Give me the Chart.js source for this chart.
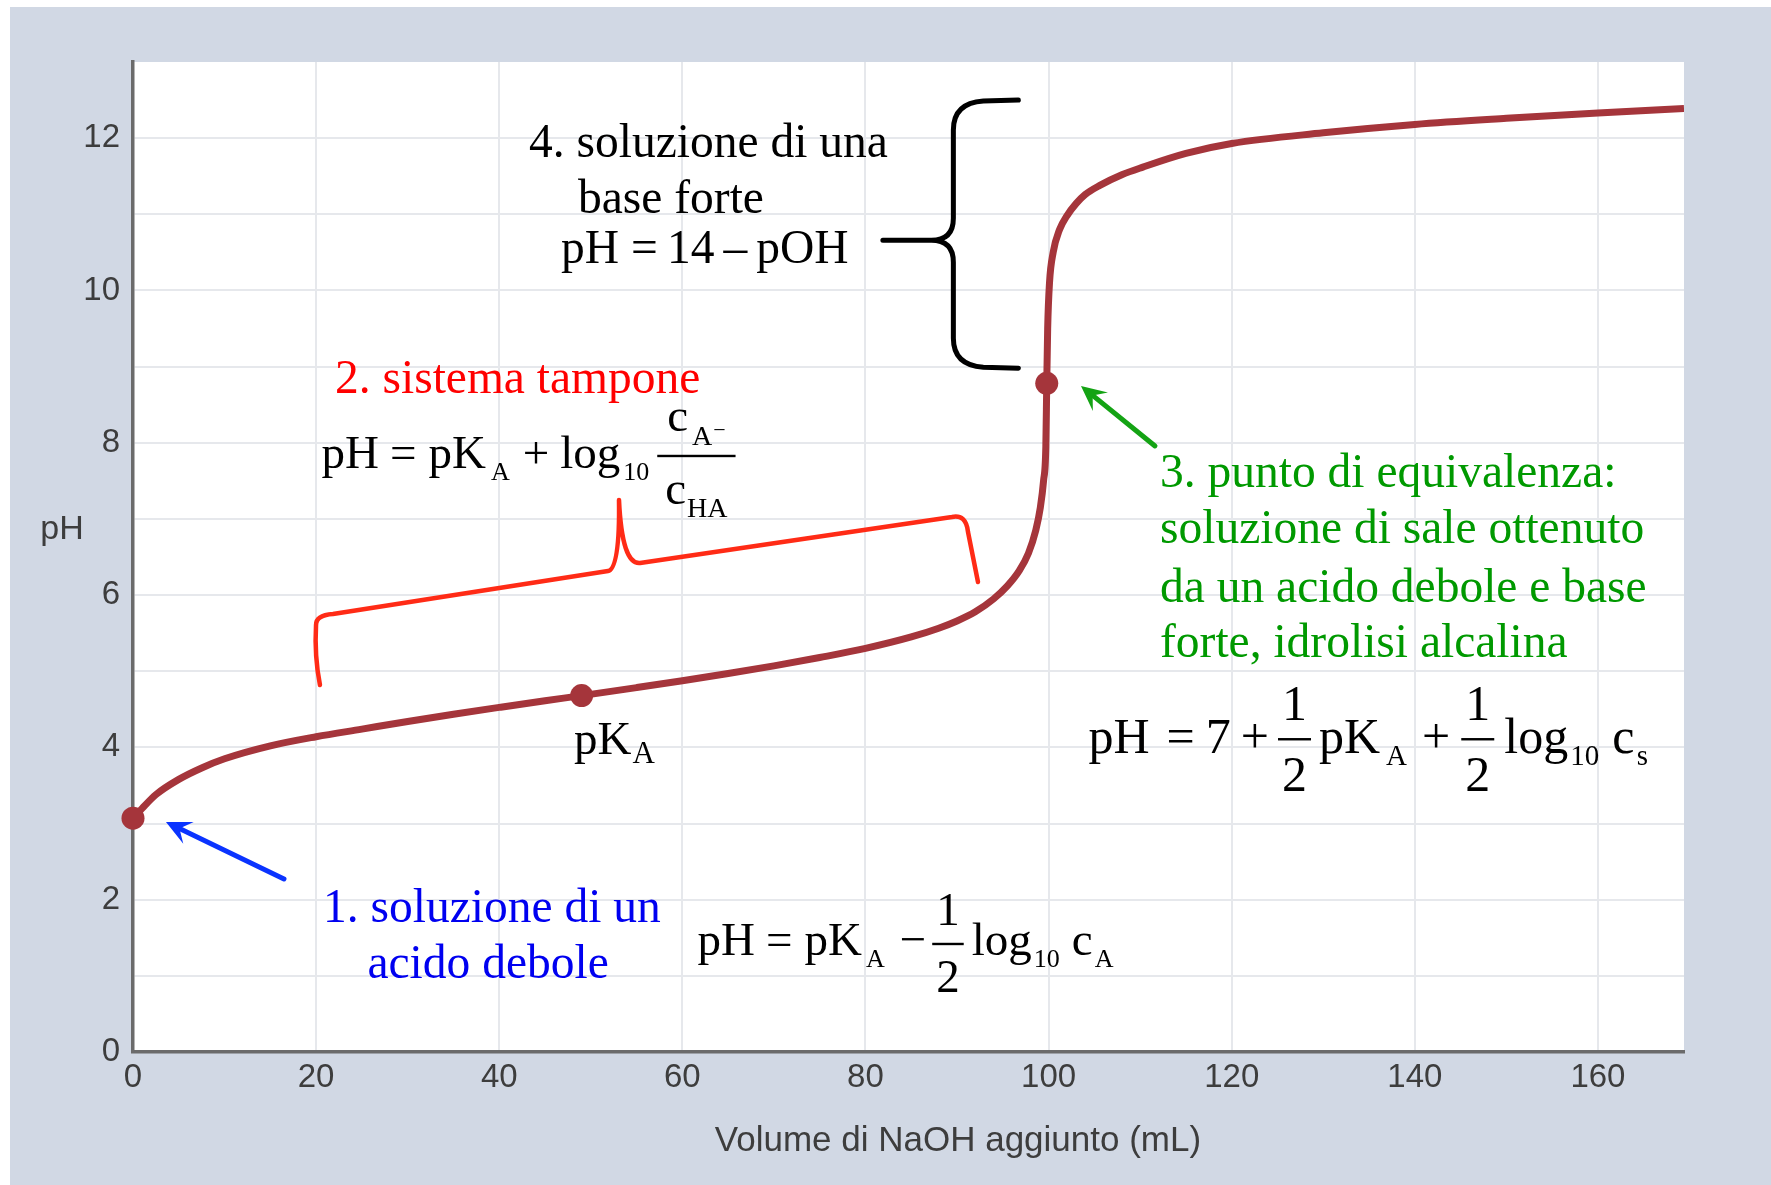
<!DOCTYPE html>
<html lang="it">
<head>
<meta charset="utf-8">
<title>Curva di titolazione: acido debole con NaOH</title>
<script src="https://cdn.jsdelivr.net/npm/chart.js@4.4.1/dist/chart.umd.min.js"></script>
<style>
  html, body { margin: 0; padding: 0; background: #fff; }
  canvas { display: block; }
</style>
</head>
<body>
<canvas id="curve" width="1771" height="1185"></canvas>
<script>
// Titration curve: weak acid titrated with NaOH
const volumeML = [0, 1, 2.5, 5, 7.5, 10, 15, 20, 25, 30, 35, 40, 45, 49, 55, 60, 65, 70, 75, 80, 85, 88, 90, 92, 94,
  95.5, 96.8, 97.8, 98.6, 99.1, 99.45, 99.7, 99.8, 99.9, 100.1, 100.5, 101.2, 102, 103, 104, 105.6, 108, 110.3, 115, 120,
  130, 140, 150, 160, 169.4];
const phValues = [3.07, 3.2, 3.38, 3.58, 3.73, 3.85, 4.02, 4.14, 4.24, 4.34, 4.435, 4.525, 4.613, 4.68, 4.785, 4.875, 4.97, 5.07, 5.18, 5.30, 5.45, 5.565, 5.66, 5.78, 5.95,
  6.12, 6.32, 6.55, 6.85, 7.15, 7.5, 7.95, 8.78, 9.5, 10.1, 10.5, 10.8, 10.98, 11.14, 11.26, 11.38, 11.52, 11.62, 11.8, 11.93,
  12.07, 12.18, 12.26, 12.33, 12.39];

// Start, half-equivalence (pH = pKa) and equivalence point
const markedVolume = [0, 49, 99.8];
const markedPH = [3.07, 4.68, 8.78];

const xTickValues = [0, 20, 40, 60, 80, 100, 120, 140, 160];
const yTickValues = [0, 2, 4, 6, 8, 10, 12];
const xMax = 169.4;
const yMax = 13;

const SERIF = '"Liberation Serif", "Times New Roman", serif';
const SANS = '"Liberation Sans", Arial, sans-serif';
const serif = px => px + 'px ' + SERIF;

// ---- small rich-text helper for formulas (sub/superscripts, fractions) ----
function itemWidth(ctx, it, F) {
  if (it.frac) {
    const w = Math.max(runWidth(ctx, it.frac.num, F), runWidth(ctx, it.frac.den, F));
    return w + 2 * it.frac.pad;
  }
  if (!it.t) return 0;
  ctx.font = serif(it.size || F);
  return ctx.measureText(it.t).width;
}
function runWidth(ctx, items, F) {
  return items.reduce((w, it) => w + (it.gap || 0) + itemWidth(ctx, it, F), 0);
}
function drawRun(ctx, x, y, items, F) {
  ctx.textAlign = 'left';
  ctx.textBaseline = 'alphabetic';
  for (const it of items) {
    x += it.gap || 0;
    if (it.frac) {
      const f = it.frac;
      const w = itemWidth(ctx, it, F);
      const barY = y - f.axis;
      ctx.fillRect(x, barY - 1.2, w, 2.4);
      const nw = runWidth(ctx, f.num, F), dw = runWidth(ctx, f.den, F);
      drawRun(ctx, x + (w - nw) / 2, barY - f.up, f.num, F);
      drawRun(ctx, x + (w - dw) / 2, barY + f.down, f.den, F);
      x += w;
    } else if (it.t) {
      ctx.font = serif(it.size || F);
      ctx.fillText(it.t, x, y + (it.dy || 0));
      x += ctx.measureText(it.t).width;
    }
  }
  return x;
}

function drawArrow(ctx, x0, y0, x1, y1, color, lw) {
  const dx = x1 - x0, dy = y1 - y0, L = Math.hypot(dx, dy);
  const ux = dx / L, uy = dy / L;
  const head = 25, half = 12, notch = 15;
  ctx.strokeStyle = color;
  ctx.fillStyle = color;
  ctx.lineWidth = lw;
  ctx.lineCap = 'round';
  ctx.beginPath();
  ctx.moveTo(x0, y0);
  ctx.lineTo(x1 - ux * notch, y1 - uy * notch);
  ctx.stroke();
  ctx.beginPath();
  ctx.moveTo(x1, y1);
  ctx.lineTo(x1 - ux * head - uy * half, y1 - uy * head + ux * half);
  ctx.lineTo(x1 - ux * notch, y1 - uy * notch);
  ctx.lineTo(x1 - ux * head + uy * half, y1 - uy * head - ux * half);
  ctx.closePath();
  ctx.fill();
}

// ---- formulas ----
const SUB = 26;
const formulaAcid = [
  { t: 'pH' }, { gap: 11, t: '=' }, { gap: 12, t: 'pK' }, { gap: 4, t: 'A', size: SUB, dy: 12 },
  { gap: 15, t: '\u2212' },
  { gap: 6, frac: { num: [{ t: '1' }], den: [{ t: '2' }], pad: 4, axis: 11, up: 19, down: 48 } },
  { gap: 8, t: 'log' }, { gap: 2, t: '10', size: SUB, dy: 12 }, { gap: 12, t: 'c' }, { gap: 2, t: 'A', size: SUB, dy: 12 }
];
const formulaBuffer = [
  { t: 'pH' }, { gap: 11, t: '=' }, { gap: 12, t: 'pK' }, { gap: 5, t: 'A', size: SUB, dy: 12 },
  { gap: 13, t: '+' }, { gap: 11, t: 'log' }, { gap: 3, t: '10', size: SUB, dy: 12 },
  { gap: 8, frac: {
      num: [{ t: 'c' }, { gap: 4, t: 'A', size: 28, dy: 14 }, { gap: 1, t: '\u2212', size: 22, dy: 6 }],
      den: [{ t: 'c' }, { gap: 1, t: 'HA', size: 28, dy: 13 }],
      pad: 8, axis: 12, up: 25, down: 48 } }
];
const SUBC = 29;
const formulaSalt = [
  { t: 'pH' }, { gap: 17, t: '=' }, { gap: 11, t: '7' }, { gap: 10, t: '+' },
  { gap: 9, frac: { num: [{ t: '1' }], den: [{ t: '2' }], pad: 4, axis: 14, up: 19, down: 52 } },
  { gap: 8, t: 'pK' }, { gap: 6, t: 'A', size: SUBC, dy: 12 }, { gap: 15, t: '+' },
  { gap: 11, frac: { num: [{ t: '1' }], den: [{ t: '2' }], pad: 4, axis: 14, up: 19, down: 52 } },
  { gap: 10, t: 'log' }, { gap: 2, t: '10', size: SUBC, dy: 12 }, { gap: 13, t: 'c' }, { gap: 2.5, t: 's', size: SUBC, dy: 12 }
];
const formulaBase = [
  { t: 'pH' }, { gap: 12, t: '=' }, { gap: 9, t: '14' }, { gap: 9, t: '\u2013' }, { gap: 9, t: 'pOH' }
];
const labelPKa = [{ t: 'pK' }, { gap: 1, t: 'A', size: 31, dy: 9 }];

// ---- background frame ----
const framePlugin = {
  id: 'frame',
  beforeDraw(chart) {
    const { ctx, width, height, chartArea: a } = chart;
    ctx.save();
    ctx.fillStyle = '#ffffff';
    ctx.fillRect(0, 0, width, height);
    ctx.fillStyle = '#d1d8e4';
    ctx.fillRect(10, 7, width - 10, height - 7);
    ctx.fillStyle = '#ffffff';
    ctx.fillRect(a.left, a.top, a.right - a.left, a.bottom - a.top);
    ctx.restore();
  }
};

// ---- notes on the titration regions ----
const notesPlugin = {
  id: 'notes',
  afterDraw(chart) {
    const { ctx, chartArea: a } = chart;
    const xs = chart.scales.x, ys = chart.scales.y;
    const X = v => xs.getPixelForValue(v);
    const Y = v => ys.getPixelForValue(v);
    ctx.save();

    // axis titles
    ctx.fillStyle = '#3d3d3d';
    ctx.font = '34px ' + SANS;
    ctx.textAlign = 'center';
    ctx.textBaseline = 'alphabetic';
    ctx.fillText('pH', a.left - 71, Y(6.74));
    ctx.font = '35px ' + SANS;
    ctx.fillText('Volume di NaOH aggiunto (mL)', X(90.1), a.bottom + 99);

    // 4. strong base region
    ctx.fillStyle = '#000';
    ctx.font = serif(47.5);
    ctx.textAlign = 'left';
    ctx.fillText('4. soluzione di una', X(43.25), Y(11.753));
    ctx.fillText('base forte', X(48.6), Y(11.018));
    drawRun(ctx, X(46.75), Y(10.361), formulaBase, 47.5);

    // black curly brace
    {
      const xR = X(96.7), xS = X(89.6), xT = X(81.9);
      const yT = Y(12.5), yM = Y(10.66), yB = Y(8.98);
      const r = 30, rm = 22;
      ctx.strokeStyle = '#000';
      ctx.lineWidth = 5;
      ctx.lineCap = 'round';
      ctx.lineJoin = 'round';
      ctx.beginPath();
      ctx.moveTo(xR, yT);
      ctx.lineTo(xS + r, yT + 1);
      ctx.quadraticCurveTo(xS, yT + 3, xS, yT + r);
      ctx.lineTo(xS, yM - rm);
      ctx.quadraticCurveTo(xS, yM, xS - rm, yM);
      ctx.lineTo(xT, yM);
      ctx.moveTo(xS - rm, yM);
      ctx.quadraticCurveTo(xS, yM, xS, yM + rm);
      ctx.lineTo(xS, yB - r);
      ctx.quadraticCurveTo(xS, yB - 3, xS + r, yB - 1);
      ctx.lineTo(xR, yB);
      ctx.stroke();
    }

    // 2. buffer region
    ctx.fillStyle = '#ff0000';
    ctx.font = serif(47.5);
    ctx.fillText('2. sistema tampone', X(22.06), Y(8.654));
    ctx.fillStyle = '#000';
    drawRun(ctx, X(20.59), Y(7.669), formulaBuffer, 47);

    // red brace over the buffer region
    ctx.strokeStyle = '#ff2b16';
    ctx.lineWidth = 4.5;
    ctx.lineCap = 'round';
    ctx.lineJoin = 'round';
    ctx.beginPath();
    ctx.moveTo(X(20.42), Y(4.819));
    ctx.quadraticCurveTo(X(19.8), Y(5.2), X(19.99), Y(5.607));
    ctx.quadraticCurveTo(X(19.99), Y(5.739), X(21.84), Y(5.752));
    ctx.lineTo(X(51.88), Y(6.316));
    ctx.quadraticCurveTo(X(53.19), Y(6.343), X(53.08), Y(7.249));
    ctx.quadraticCurveTo(X(53.41), Y(6.395), X(55.38), Y(6.421));
    ctx.lineTo(X(89.45), Y(7.026));
    ctx.quadraticCurveTo(X(90.98), Y(7.065), X(91.2), Y(6.829));
    ctx.lineTo(X(92.29), Y(6.172));
    ctx.stroke();

    // pKa label under the half-equivalence point
    ctx.fillStyle = '#000';
    drawRun(ctx, X(48.17), Y(3.907), labelPKa, 47);

    // 1. weak acid
    drawArrow(ctx, X(16.49), Y(2.272), X(3.60), Y(3.020), '#0a33ff', 5);
    ctx.fillStyle = '#0000f0';
    ctx.font = serif(47.5);
    ctx.fillText('1. soluzione di un', X(20.75), Y(1.707));
    ctx.fillText('acido debole', X(25.6), Y(0.972));
    ctx.fillStyle = '#000';
    drawRun(ctx, X(61.66), Y(1.274), formulaAcid, 47);

    // 3. equivalence point
    drawArrow(ctx, X(111.62), Y(7.958), X(103.54), Y(8.746), '#14a314', 5);
    ctx.fillStyle = '#009900';
    ctx.font = serif(47.5);
    ctx.fillText('3. punto di equivalenza:', X(112.17), Y(7.424));
    ctx.fillText('soluzione di sale ottenuto', X(112.17), Y(6.680));
    ctx.fillText('da un acido debole e base', X(112.17), Y(5.913));
    ctx.fillText('forte, idrolisi alcalina', X(112.17), Y(5.183));
    ctx.fillStyle = '#000';
    drawRun(ctx, X(104.36), Y(3.923), formulaSalt, 50);

    ctx.restore();
  }
};

const curveColor = '#a5353b';

new Chart(document.getElementById('curve'), {
  type: 'scatter',
  data: {
    datasets: [
      {
        label: 'pH',
        data: volumeML.map((v, i) => ({ x: v, y: phValues[i] })),
        showLine: true,
        borderColor: curveColor,
        borderWidth: 7,
        pointRadius: 0,
        cubicInterpolationMode: 'monotone',
        fill: false,
        order: 2
      },
      {
        label: 'punti notevoli',
        data: markedVolume.map((v, i) => ({ x: v, y: markedPH[i] })),
        showLine: false,
        pointRadius: 11.5,
        pointBackgroundColor: curveColor,
        pointBorderWidth: 0,
        clip: false,
        order: 1
      }
    ]
  },
  options: {
    responsive: false,
    devicePixelRatio: 1,
    animation: false,
    layout: { padding: { left: 0, top: 62, right: 87, bottom: 0 } },
    plugins: { legend: { display: false }, tooltip: { enabled: false } },
    scales: {
      x: {
        type: 'linear',
        min: 0,
        max: xMax,
        afterFit: s => { s.height = 133; },
        afterBuildTicks: s => { s.ticks = xTickValues.map(v => ({ value: v })); },
        grid: { color: '#e6e8ec', lineWidth: 2, drawTicks: false },
        border: { color: '#6b6b6b', width: 3.5 },
        ticks: {
          autoSkip: false,
          maxRotation: 0,
          padding: 6,
          color: '#3d3d3d',
          font: { family: SANS, size: 33 }
        }
      },
      y: {
        type: 'linear',
        min: 0,
        max: yMax,
        afterFit: s => { s.width = 133; },
        grid: {
          color: c => (c.tick && c.tick.value === yMax ? 'rgba(0,0,0,0)' : '#e6e8ec'),
          lineWidth: 2,
          drawTicks: false
        },
        border: { color: '#6b6b6b', width: 3.5 },
        ticks: {
          stepSize: 1,
          autoSkip: false,
          padding: 13,
          color: '#3d3d3d',
          font: { family: SANS, size: 33 },
          callback: v => (yTickValues.includes(v) ? String(v) : '')
        }
      }
    }
  },
  plugins: [framePlugin, notesPlugin]
});
</script>
</body>
</html>
